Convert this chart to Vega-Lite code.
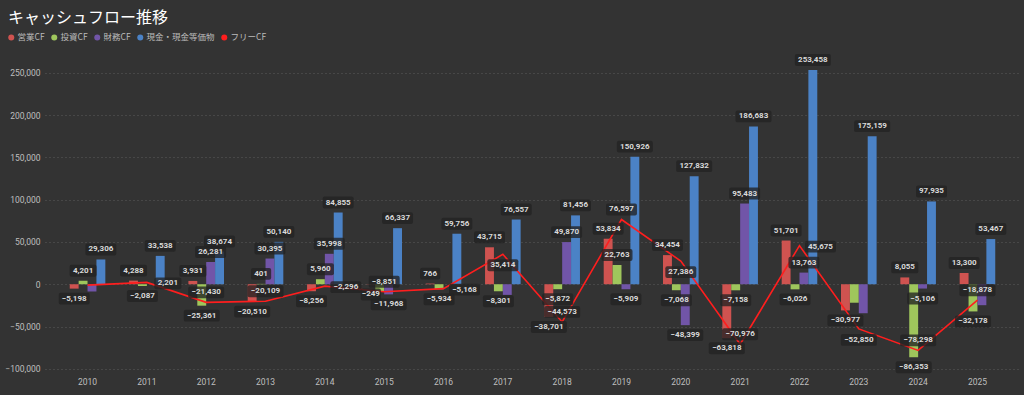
{
  "$schema": "https://vega.github.io/schema/vega-lite/v6.json",
  "width": 975,
  "height": 317,
  "autosize": {"type": "none"},
  "padding": {"left": 45, "top": 56, "right": 4, "bottom": 22},
  "background": "#333333",
  "title": {
    "text": "キャッシュフロー推移",
    "anchor": "start",
    "frame": "group",
    "dx": -37,
    "offset": 7,
    "font": "Noto Sans CJK JP",
    "fontSize": 16,
    "fontWeight": "normal",
    "color": "#ffffff"
  },
  "config": {
    "view": {"stroke": null},
    "legend": {"symbolType": "circle"}
  },
  "data": {
    "values": [
      {"year": "2010", "type": "営業CF", "value": -5198, "show": true},
      {"year": "2010", "type": "投資CF", "value": 4201, "show": true},
      {"year": "2010", "type": "財務CF", "value": -8700, "show": false},
      {"year": "2010", "type": "現金・現金等価物", "value": 29306, "show": true},
      {"year": "2010", "type": "フリーCF", "value": -997, "show": false},
      {"year": "2011", "type": "営業CF", "value": 4288, "show": true},
      {"year": "2011", "type": "投資CF", "value": -2087, "show": true},
      {"year": "2011", "type": "財務CF", "value": 0, "show": false},
      {"year": "2011", "type": "現金・現金等価物", "value": 33538, "show": true},
      {"year": "2011", "type": "フリーCF", "value": 2201, "show": true},
      {"year": "2012", "type": "営業CF", "value": 3931, "show": true},
      {"year": "2012", "type": "投資CF", "value": -25361, "show": true},
      {"year": "2012", "type": "財務CF", "value": 26281, "show": true},
      {"year": "2012", "type": "現金・現金等価物", "value": 38674, "show": true},
      {"year": "2012", "type": "フリーCF", "value": -21430, "show": true},
      {"year": "2013", "type": "営業CF", "value": -20510, "show": true},
      {"year": "2013", "type": "投資CF", "value": 401, "show": true},
      {"year": "2013", "type": "財務CF", "value": 30395, "show": true},
      {"year": "2013", "type": "現金・現金等価物", "value": 50140, "show": true},
      {"year": "2013", "type": "フリーCF", "value": -20109, "show": true},
      {"year": "2014", "type": "営業CF", "value": -8256, "show": true},
      {"year": "2014", "type": "投資CF", "value": 5960, "show": true},
      {"year": "2014", "type": "財務CF", "value": 35998, "show": true},
      {"year": "2014", "type": "現金・現金等価物", "value": 84855, "show": true},
      {"year": "2014", "type": "フリーCF", "value": -2296, "show": true},
      {"year": "2015", "type": "営業CF", "value": -249, "show": true},
      {"year": "2015", "type": "投資CF", "value": -8602, "show": false},
      {"year": "2015", "type": "財務CF", "value": -11968, "show": true},
      {"year": "2015", "type": "現金・現金等価物", "value": 66337, "show": true},
      {"year": "2015", "type": "フリーCF", "value": -8851, "show": true},
      {"year": "2016", "type": "営業CF", "value": 766, "show": true},
      {"year": "2016", "type": "投資CF", "value": -5934, "show": true},
      {"year": "2016", "type": "財務CF", "value": 0, "show": false},
      {"year": "2016", "type": "現金・現金等価物", "value": 59756, "show": true},
      {"year": "2016", "type": "フリーCF", "value": -5168, "show": true},
      {"year": "2017", "type": "営業CF", "value": 43715, "show": true},
      {"year": "2017", "type": "投資CF", "value": -8301, "show": true},
      {"year": "2017", "type": "財務CF", "value": -12600, "show": false},
      {"year": "2017", "type": "現金・現金等価物", "value": 76557, "show": true},
      {"year": "2017", "type": "フリーCF", "value": 35414, "show": true},
      {"year": "2018", "type": "営業CF", "value": -38701, "show": true},
      {"year": "2018", "type": "投資CF", "value": -5872, "show": true},
      {"year": "2018", "type": "財務CF", "value": 49870, "show": true},
      {"year": "2018", "type": "現金・現金等価物", "value": 81456, "show": true},
      {"year": "2018", "type": "フリーCF", "value": -44573, "show": true},
      {"year": "2019", "type": "営業CF", "value": 53834, "show": true},
      {"year": "2019", "type": "投資CF", "value": 22763, "show": true},
      {"year": "2019", "type": "財務CF", "value": -5909, "show": true},
      {"year": "2019", "type": "現金・現金等価物", "value": 150926, "show": true},
      {"year": "2019", "type": "フリーCF", "value": 76597, "show": true},
      {"year": "2020", "type": "営業CF", "value": 34454, "show": true},
      {"year": "2020", "type": "投資CF", "value": -7068, "show": true},
      {"year": "2020", "type": "財務CF", "value": -48399, "show": true},
      {"year": "2020", "type": "現金・現金等価物", "value": 127832, "show": true},
      {"year": "2020", "type": "フリーCF", "value": 27386, "show": true},
      {"year": "2021", "type": "営業CF", "value": -63818, "show": true},
      {"year": "2021", "type": "投資CF", "value": -7158, "show": true},
      {"year": "2021", "type": "財務CF", "value": 95483, "show": true},
      {"year": "2021", "type": "現金・現金等価物", "value": 186683, "show": true},
      {"year": "2021", "type": "フリーCF", "value": -70976, "show": true},
      {"year": "2022", "type": "営業CF", "value": 51701, "show": true},
      {"year": "2022", "type": "投資CF", "value": -6026, "show": true},
      {"year": "2022", "type": "財務CF", "value": 13763, "show": true},
      {"year": "2022", "type": "現金・現金等価物", "value": 253458, "show": true},
      {"year": "2022", "type": "フリーCF", "value": 45675, "show": true},
      {"year": "2023", "type": "営業CF", "value": -30977, "show": true},
      {"year": "2023", "type": "投資CF", "value": -21873, "show": false},
      {"year": "2023", "type": "財務CF", "value": -34300, "show": false},
      {"year": "2023", "type": "現金・現金等価物", "value": 175159, "show": true},
      {"year": "2023", "type": "フリーCF", "value": -52850, "show": true},
      {"year": "2024", "type": "営業CF", "value": 8055, "show": true},
      {"year": "2024", "type": "投資CF", "value": -86353, "show": true},
      {"year": "2024", "type": "財務CF", "value": -5106, "show": true},
      {"year": "2024", "type": "現金・現金等価物", "value": 97935, "show": true},
      {"year": "2024", "type": "フリーCF", "value": -78298, "show": true},
      {"year": "2025", "type": "営業CF", "value": 13300, "show": true},
      {"year": "2025", "type": "投資CF", "value": -32178, "show": true},
      {"year": "2025", "type": "財務CF", "value": -24800, "show": false},
      {"year": "2025", "type": "現金・現金等価物", "value": 53467, "show": true},
      {"year": "2025", "type": "フリーCF", "value": -18878, "show": true}
    ]
  },
  "encoding": {
    "x": {
      "field": "year",
      "type": "ordinal",
      "scale": {"paddingInner": 0.4, "paddingOuter": 0.417},
      "axis": {
        "title": null,
        "labelAngle": 0,
        "ticks": false,
        "domain": false,
        "grid": false,
        "labelPadding": 4,
        "labelColor": "#bfbfbf",
        "labelFont": "Roboto",
        "labelFontSize": 8.5
      }
    },
    "y": {
      "field": "value",
      "type": "quantitative",
      "scale": {"domain": [-105000, 270000], "nice": false, "zero": false},
      "axis": {
        "title": null,
        "values": [-100000, -50000, 0, 50000, 100000, 150000, 200000, 250000],
        "format": ",.0f",
        "ticks": false,
        "domain": false,
        "labelPadding": 5,
        "labelColor": "#bfbfbf",
        "labelFont": "Roboto",
        "labelFontSize": 8.5,
        "gridColor": "#5c5c5c",
        "gridDash": [1, 3]
      }
    }
  },
  "layer": [
    {
      "transform": [{"filter": "datum.type !== 'フリーCF'"}],
      "mark": {"type": "bar"},
      "encoding": {
        "xOffset": {"field": "type", "type": "nominal", "scale": {"domain": ["営業CF", "投資CF", "財務CF", "現金・現金等価物"], "paddingInner": 0}},
        "color": {
          "field": "type",
          "type": "nominal",
          "scale": {
            "domain": ["営業CF", "投資CF", "財務CF", "現金・現金等価物", "フリーCF"],
            "range": ["#cf5350", "#9fc65c", "#7155a8", "#4b82c6", "#ff1e1e"]
          },
          "legend": {
            "title": null,
            "orient": "none",
            "legendX": -38,
            "legendY": -23,
            "direction": "horizontal",
            "symbolType": "circle",
            "symbolSize": 36,
            "symbolStrokeWidth": 0,
            "labelOffset": 2,
            "columnPadding": 5,
            "labelColor": "#bbbbbb",
            "labelFont": "Noto Sans CJK JP",
            "labelFontSize": 8.5,
            "encode": {
              "symbols": {
                "update": {
                  "fill": {"scale": "color", "field": "value"},
                  "stroke": {"value": "transparent"},
                  "opacity": {"value": 1}
                }
              }
            }
          }
        }
      }
    },
    {
      "transform": [{"filter": "datum.type === 'フリーCF'"}],
      "mark": {"type": "line", "strokeWidth": 1.6},
      "encoding": {
        "color": {"field": "type", "type": "nominal"}
      }
    },
    {
      "transform": [{"filter": "datum.type !== 'フリーCF' && datum.show && datum.value >= 0"}],
      "mark": {"type": "point", "filled": true, "size": 1296, "fill": "#222222", "opacity": 0.78, "strokeWidth": 0, "yOffset": -10},
      "encoding": {
        "xOffset": {"field": "type", "type": "nominal"},
        "shape": {
          "condition": [
            {"test": "length(format(datum.value, ',')) >= 7", "value": "M-0.89,-0.33L0.89,-0.33Q1,-0.33 1,-0.22L1,0.22Q1,0.33 0.89,0.33L-0.89,0.33Q-1,0.33 -1,0.22L-1,-0.22Q-1,-0.33 -0.89,-0.33Z"},
            {"test": "length(format(datum.value, ',')) == 6", "value": "M-0.75,-0.33L0.75,-0.33Q0.86,-0.33 0.86,-0.22L0.86,0.22Q0.86,0.33 0.75,0.33L-0.75,0.33Q-0.86,0.33 -0.86,0.22L-0.86,-0.22Q-0.86,-0.33 -0.75,-0.33Z"},
            {"test": "length(format(datum.value, ',')) == 5", "value": "M-0.64,-0.33L0.64,-0.33Q0.75,-0.33 0.75,-0.22L0.75,0.22Q0.75,0.33 0.64,0.33L-0.64,0.33Q-0.75,0.33 -0.75,0.22L-0.75,-0.22Q-0.75,-0.33 -0.64,-0.33Z"}
          ],
          "value": "M-0.45,-0.33L0.45,-0.33Q0.56,-0.33 0.56,-0.22L0.56,0.22Q0.56,0.33 0.45,0.33L-0.45,0.33Q-0.56,0.33 -0.56,0.22L-0.56,-0.22Q-0.56,-0.33 -0.45,-0.33Z"
        }
      }
    },
    {
      "transform": [{"filter": "datum.type !== 'フリーCF' && datum.show && datum.value < 0"}],
      "mark": {"type": "point", "filled": true, "size": 1296, "fill": "#222222", "opacity": 0.78, "strokeWidth": 0, "yOffset": 10},
      "encoding": {
        "xOffset": {"field": "type", "type": "nominal"},
        "shape": {
          "condition": [
            {"test": "length(format(datum.value, ',')) >= 7", "value": "M-0.89,-0.33L0.89,-0.33Q1,-0.33 1,-0.22L1,0.22Q1,0.33 0.89,0.33L-0.89,0.33Q-1,0.33 -1,0.22L-1,-0.22Q-1,-0.33 -0.89,-0.33Z"},
            {"test": "length(format(datum.value, ',')) == 6", "value": "M-0.75,-0.33L0.75,-0.33Q0.86,-0.33 0.86,-0.22L0.86,0.22Q0.86,0.33 0.75,0.33L-0.75,0.33Q-0.86,0.33 -0.86,0.22L-0.86,-0.22Q-0.86,-0.33 -0.75,-0.33Z"},
            {"test": "length(format(datum.value, ',')) == 5", "value": "M-0.64,-0.33L0.64,-0.33Q0.75,-0.33 0.75,-0.22L0.75,0.22Q0.75,0.33 0.64,0.33L-0.64,0.33Q-0.75,0.33 -0.75,0.22L-0.75,-0.22Q-0.75,-0.33 -0.64,-0.33Z"}
          ],
          "value": "M-0.45,-0.33L0.45,-0.33Q0.56,-0.33 0.56,-0.22L0.56,0.22Q0.56,0.33 0.45,0.33L-0.45,0.33Q-0.56,0.33 -0.56,0.22L-0.56,-0.22Q-0.56,-0.33 -0.45,-0.33Z"
        }
      }
    },
    {
      "transform": [{"filter": "datum.type === 'フリーCF' && datum.show"}],
      "mark": {
        "type": "point", "filled": true, "size": 1296, "fill": "#222222", "opacity": 0.78, "strokeWidth": 0,
        "yOffset": {"expr": "indexof(['2017','2020','2023'], datum.year) >= 0 ? 11 : (indexof(['2011','2014','2016','2022'], datum.year) >= 0 ? 1 : -10)"},
        "xOffset": {"expr": "indexof(['2011','2014','2016','2022'], datum.year) >= 0 ? 21 : 0"}
      },
      "encoding": {
        "shape": {
          "condition": [
            {"test": "length(format(datum.value, ',')) >= 7", "value": "M-0.89,-0.33L0.89,-0.33Q1,-0.33 1,-0.22L1,0.22Q1,0.33 0.89,0.33L-0.89,0.33Q-1,0.33 -1,0.22L-1,-0.22Q-1,-0.33 -0.89,-0.33Z"},
            {"test": "length(format(datum.value, ',')) == 6", "value": "M-0.75,-0.33L0.75,-0.33Q0.86,-0.33 0.86,-0.22L0.86,0.22Q0.86,0.33 0.75,0.33L-0.75,0.33Q-0.86,0.33 -0.86,0.22L-0.86,-0.22Q-0.86,-0.33 -0.75,-0.33Z"},
            {"test": "length(format(datum.value, ',')) == 5", "value": "M-0.64,-0.33L0.64,-0.33Q0.75,-0.33 0.75,-0.22L0.75,0.22Q0.75,0.33 0.64,0.33L-0.64,0.33Q-0.75,0.33 -0.75,0.22L-0.75,-0.22Q-0.75,-0.33 -0.64,-0.33Z"}
          ],
          "value": "M-0.45,-0.33L0.45,-0.33Q0.56,-0.33 0.56,-0.22L0.56,0.22Q0.56,0.33 0.45,0.33L-0.45,0.33Q-0.56,0.33 -0.56,0.22L-0.56,-0.22Q-0.56,-0.33 -0.45,-0.33Z"
        }
      }
    },
    {
      "transform": [{"filter": "datum.type !== 'フリーCF' && datum.show && datum.value >= 0"}],
      "mark": {"type": "text", "font": "Roboto", "fontSize": 8, "fontWeight": "bold", "fill": "#d9d9d9", "baseline": "middle", "yOffset": -10},
      "encoding": {
        "xOffset": {"field": "type", "type": "nominal"},
        "text": {"field": "value", "type": "quantitative", "format": ",.0f"}
      }
    },
    {
      "transform": [{"filter": "datum.type !== 'フリーCF' && datum.show && datum.value < 0"}],
      "mark": {"type": "text", "font": "Roboto", "fontSize": 8, "fontWeight": "bold", "fill": "#d9d9d9", "baseline": "middle", "yOffset": 10},
      "encoding": {
        "xOffset": {"field": "type", "type": "nominal"},
        "text": {"field": "value", "type": "quantitative", "format": ",.0f"}
      }
    },
    {
      "transform": [{"filter": "datum.type === 'フリーCF' && datum.show"}],
      "mark": {
        "type": "text", "font": "Roboto", "fontSize": 8, "fontWeight": "bold", "fill": "#d9d9d9", "baseline": "middle",
        "yOffset": {"expr": "indexof(['2017','2020','2023'], datum.year) >= 0 ? 11 : (indexof(['2011','2014','2016','2022'], datum.year) >= 0 ? 1 : -10)"},
        "xOffset": {"expr": "indexof(['2011','2014','2016','2022'], datum.year) >= 0 ? 21 : 0"}
      },
      "encoding": {
        "text": {"field": "value", "type": "quantitative", "format": ",.0f"}
      }
    }
  ]
}
